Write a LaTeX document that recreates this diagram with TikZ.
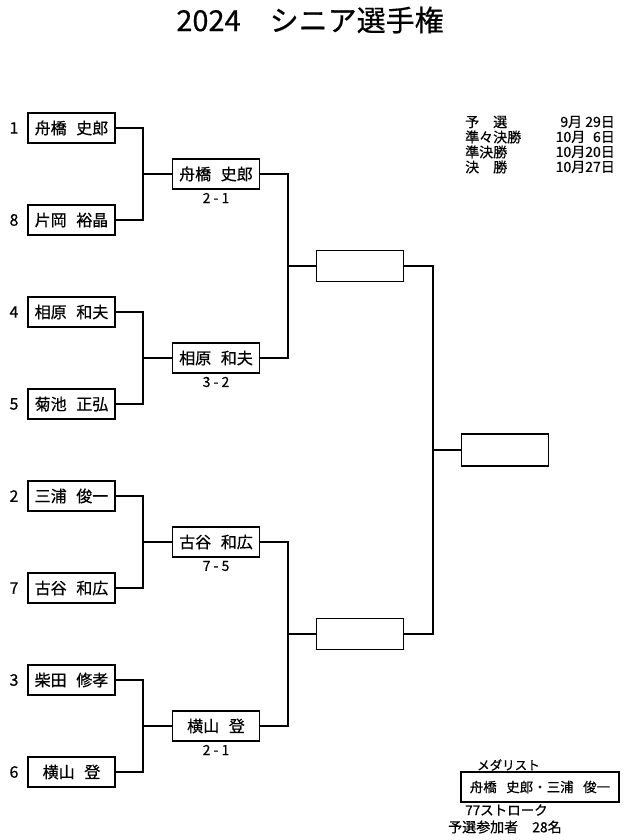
\documentclass[tikz,border=0pt]{standalone}
\usepackage{fontspec}
\setmainfont[FakeBold=0.5]{Noto Sans CJK JP}
\newcommand\ngap{\hspace{0.6em}}
\begin{document}
\begin{tikzpicture}[x=1pt,y=-1pt,
  pbox/.style={draw, line width=1.3pt, minimum width=87pt, minimum height=30pt, inner sep=0pt, font=\fontsize{16}{18}\selectfont},
  conn/.style={line width=1.2pt},
  seed/.style={font=\fontsize{16}{18}\selectfont},
  score/.style={font=\fontsize{14}{16}\selectfont},
  small/.style={font=\fontsize{14}{16}\selectfont, inner sep=0pt}]
\useasboundingbox[fill=white] (0,0) rectangle (630,840);
\node[font=\fontsize{29}{32}\selectfont] (title) at (310,20) {2024　シニア選手権};
% round 1
\node[pbox] (p1) at (71.5,128) {舟橋\ngap 史郎};
\node[pbox] (p8) at (71.5,220) {片岡\ngap 裕晶};
\node[pbox] (p4) at (71.5,312) {相原\ngap 和夫};
\node[pbox] (p5) at (71.5,404) {菊池\ngap 正弘};
\node[pbox] (p2) at (71.5,496) {三浦\ngap 俊一};
\node[pbox] (p7) at (71.5,588) {古谷\ngap 和広};
\node[pbox] (p3) at (71.5,680) {柴田\ngap 修孝};
\node[pbox] (p6) at (71.5,772) {横山\ngap 登};
\node[seed] (s1) at (14,128) {1};
\node[seed] (s8) at (14,220) {8};
\node[seed] (s4) at (14,312) {4};
\node[seed] (s5) at (14,404) {5};
\node[seed] (s2) at (14,496) {2};
\node[seed] (s7) at (14,588) {7};
\node[seed] (s3) at (14,680) {3};
\node[seed] (s6) at (14,772) {6};
% round 2
\node[pbox] (q1) at (216,174) {舟橋\ngap 史郎};
\node[pbox] (q2) at (216,358) {相原\ngap 和夫};
\node[pbox] (q3) at (216,542) {古谷\ngap 和広};
\node[pbox] (q4) at (216,726) {横山\ngap 登};
\node[score] (sc1) at (216,198) {2 - 1};
\node[score] (sc2) at (216,382) {3 - 2};
\node[score] (sc3) at (216,566) {7 - 5};
\node[score] (sc4) at (216,750) {2 - 1};
% semis and final
\node[pbox, minimum height=31pt] (r1) at (360,266) {};
\node[pbox, minimum height=31pt] (r2) at (360,634) {};
\node[pbox, minimum height=32pt] (f) at (505,450) {};
% junctions
\coordinate (j1) at (143,174);
\coordinate (j2) at (143,358);
\coordinate (j3) at (143,542);
\coordinate (j4) at (143,726);
\coordinate (k1) at (288,266);
\coordinate (k2) at (288,634);
\coordinate (m) at (433,450);
\draw[conn] (p1.east) -| (j1) |- (p8.east);
\draw[conn] (j1) -- (q1.west);
\draw[conn] (p4.east) -| (j2) |- (p5.east);
\draw[conn] (j2) -- (q2.west);
\draw[conn] (p2.east) -| (j3) |- (p7.east);
\draw[conn] (j3) -- (q3.west);
\draw[conn] (p3.east) -| (j4) |- (p6.east);
\draw[conn] (j4) -- (q4.west);
\draw[conn] (q1.east) -| (k1) |- (q2.east);
\draw[conn] (k1) -- (r1.west);
\draw[conn] (q3.east) -| (k2) |- (q4.east);
\draw[conn] (k2) -- (r2.west);
\draw[conn] (r1.east) -| (m) |- (r2.east);
\draw[conn] (m) -- (f.west);
% schedule
\node[small, anchor=west] (d1) at (465,122) {予　選};
\node[small, anchor=west] (d2) at (465,137) {準々決勝};
\node[small, anchor=west] (d3) at (465,152) {準決勝};
\node[small, anchor=west] (d4) at (465,167) {決　勝};
\node[small, anchor=east] (e1) at (615,122) {9月 29日};
\node[small, anchor=east] (e2) at (615,137) {10月\hphantom{2}6日};
\node[small, anchor=east] (e3) at (615,152) {10月20日};
\node[small, anchor=east] (e4) at (615,167) {10月27日};
% medalist
\node[small, anchor=west, font=\fontsize{12.5}{14}\selectfont] (ml) at (477,765) {メダリスト};
\node[draw, line width=1.3pt, minimum width=158pt, minimum height=30pt, inner sep=0pt, font=\fontsize{13.5}{15}\selectfont] (mb) at (540,787) {舟橋\hspace{0.7em}史郎・三浦\hspace{0.7em}俊一};
\node[small, anchor=west, font=\fontsize{13.5}{15}\selectfont] (st) at (465,810) {77ストローク};
\node[small, anchor=west, font=\fontsize{14}{16}\selectfont] (pa) at (448,827) {予選参加者　28名};
\end{tikzpicture}
\end{document}
